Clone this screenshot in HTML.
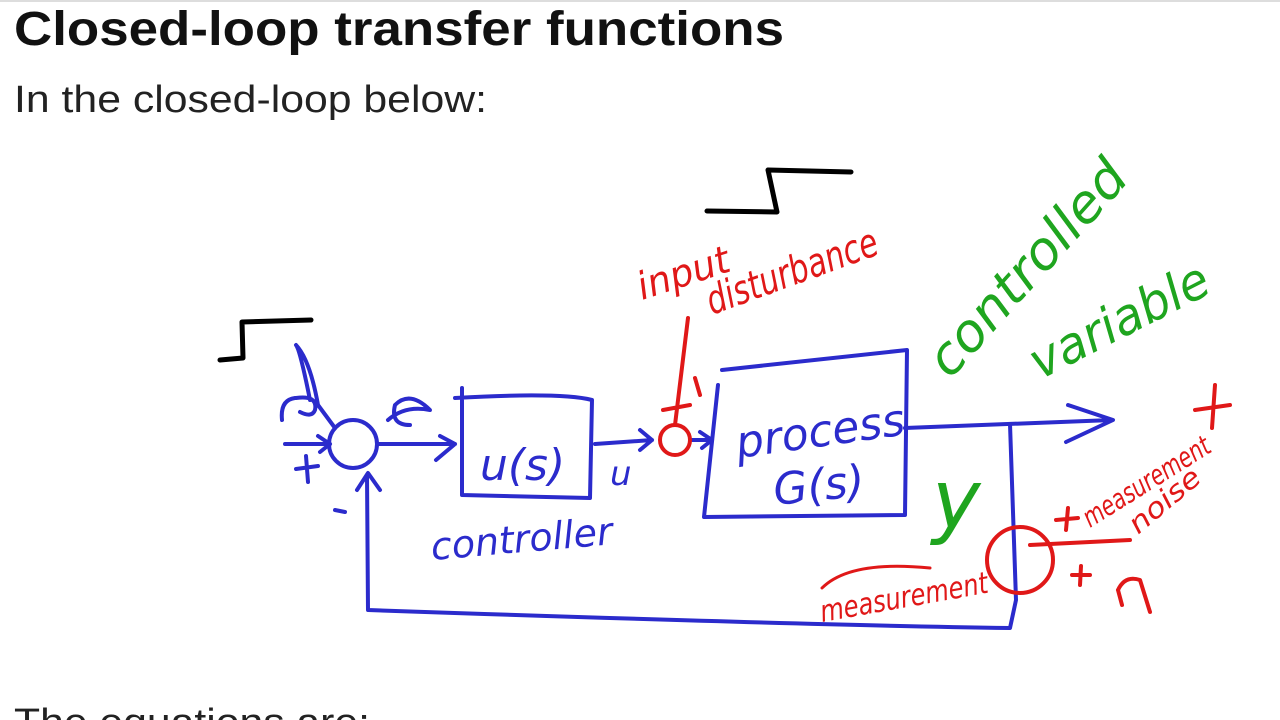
<!DOCTYPE html>
<html><head><meta charset="utf-8"><style>
html,body{margin:0;padding:0;background:#fff;width:1280px;height:720px;overflow:hidden}
svg{display:block}
</style></head><body>
<svg width="1280" height="720" viewBox="0 0 1280 720" xmlns="http://www.w3.org/2000/svg">
<line x1="0" y1="1" x2="1280" y2="1" stroke="#ddd" stroke-width="2"/>
<text x="14" y="45" font-family="Liberation Sans, sans-serif" font-weight="bold" font-size="48" fill="#111" textLength="770" lengthAdjust="spacingAndGlyphs">Closed-loop transfer functions</text>
<text x="14" y="112" font-family="Liberation Sans, sans-serif" font-size="38" fill="#222" textLength="473" lengthAdjust="spacingAndGlyphs">In the closed-loop below:</text>
<text x="14" y="735" font-family="Liberation Sans, sans-serif" font-size="38" fill="#222" textLength="356" lengthAdjust="spacingAndGlyphs">The equations are:</text>

<g fill="none" stroke-linecap="round" stroke-linejoin="round">
<path d="M220 360 L243 358 L242 322 L311 320" stroke="#000" stroke-width="5"/>
<path d="M707 211 L777 212 L768 170 L851 172" stroke="#000" stroke-width="5"/>

<g stroke="#2b2bcc" stroke-width="4">
<circle cx="353" cy="444" r="24"/>
<path d="M285 444 L330 444 M318 436 L330 444 L320 452"/>
<path d="M296 469 L318 466 M306 456 L308 482"/>
<path d="M335 510 L345 512"/>
<path d="M282 420 Q280 400 295 398 M296 398 Q318 395 315 410 Q312 418 300 412 M310 400 Q300 350 296 345 Q310 360 318 405 L335 428"/>
<path d="M377 444 L455 444 M436 460 L455 444 L440 436"/>
<path d="M388 420 Q405 405 430 410 Q410 390 395 405 Q390 425 410 425"/>
<path d="M462 388 L462 495 L590 498 L592 400 Q560 392 455 398"/>
<text x="480" y="480" font-family="DejaVu Sans, sans-serif" font-style="italic" font-size="44" fill="#2b2bcc" stroke="none">u(s)</text>
<text x="432" y="560" font-family="DejaVu Sans, sans-serif" font-style="italic" font-size="38" fill="#2b2bcc" stroke="none" transform="rotate(-5 432 560)">controller</text>
<path d="M595 444 L652 440 M640 430 L652 440 L640 450"/>
<text x="610" y="485" font-family="DejaVu Sans, sans-serif" font-style="italic" font-size="34" fill="#2b2bcc" stroke="none">u</text>
<path d="M692 440 L712 440 M700 432 L712 440 L702 448"/>
<path d="M722 370 L907 350 L905 515 L704 517 L718 385"/>
<text x="738" y="458" font-family="DejaVu Sans, sans-serif" font-style="italic" font-size="44" fill="#2b2bcc" stroke="none" transform="rotate(-8 738 458)">process</text>
<text x="775" y="505" font-family="DejaVu Sans, sans-serif" font-style="italic" font-size="44" fill="#2b2bcc" stroke="none" transform="rotate(-6 775 505)">G(s)</text>
<path d="M905 428 L1112 420 M1068 405 L1113 420 L1066 442"/>
<path d="M1010 424 L1016 600 L1010 628 Q800 625 368 610 L367 475 M357 490 L368 473 L380 490"/>
</g>

<g stroke="#e01818" stroke-width="4">
<circle cx="675" cy="440" r="15"/>
<path d="M688 318 L675 425 M663 410 L690 405 M695 378 L700 395"/>
<circle cx="1020" cy="560" r="33"/>
<path d="M1030 545 L1130 540 M1068 508 L1066 530 M1056 520 L1078 518 M1072 575 L1090 575 M1081 566 L1080 585"/>
<path d="M1118 590 Q1125 575 1140 580 L1150 612 M1118 590 L1122 605"/>
<path d="M1195 410 L1230 405 M1215 385 L1212 428"/>
<path d="M822 588 Q850 560 930 568" stroke-width="3"/>
</g>
<g fill="#e01818" font-family="DejaVu Sans, sans-serif" font-style="italic">
<text x="642" y="300" font-size="38" transform="rotate(-18 642 300)" textLength="95" lengthAdjust="spacingAndGlyphs">input</text>
<text x="712" y="315" font-size="40" transform="rotate(-20 712 315)" textLength="180" lengthAdjust="spacingAndGlyphs">disturbance</text>
<text x="822" y="622" font-size="30" transform="rotate(-10 822 622)" textLength="170" lengthAdjust="spacingAndGlyphs">measurement</text>
<text x="1090" y="528" font-size="28" transform="rotate(-32 1090 528)" textLength="145" lengthAdjust="spacingAndGlyphs">measurement</text>
<text x="1138" y="535" font-size="28" transform="rotate(-40 1138 535)" textLength="85" lengthAdjust="spacingAndGlyphs">noise</text>
</g>
<g fill="#1fa51f" font-family="DejaVu Sans, sans-serif" font-style="italic">
<text x="950" y="380" font-size="52" transform="rotate(-48 950 380)" textLength="270" lengthAdjust="spacingAndGlyphs">controlled</text>
<text x="1040" y="380" font-size="50" transform="rotate(-27 1040 380)" textLength="195" lengthAdjust="spacingAndGlyphs">variable</text>
<text x="932" y="528" font-size="82">y</text>
</g>
</g>
</svg>
</body></html>
